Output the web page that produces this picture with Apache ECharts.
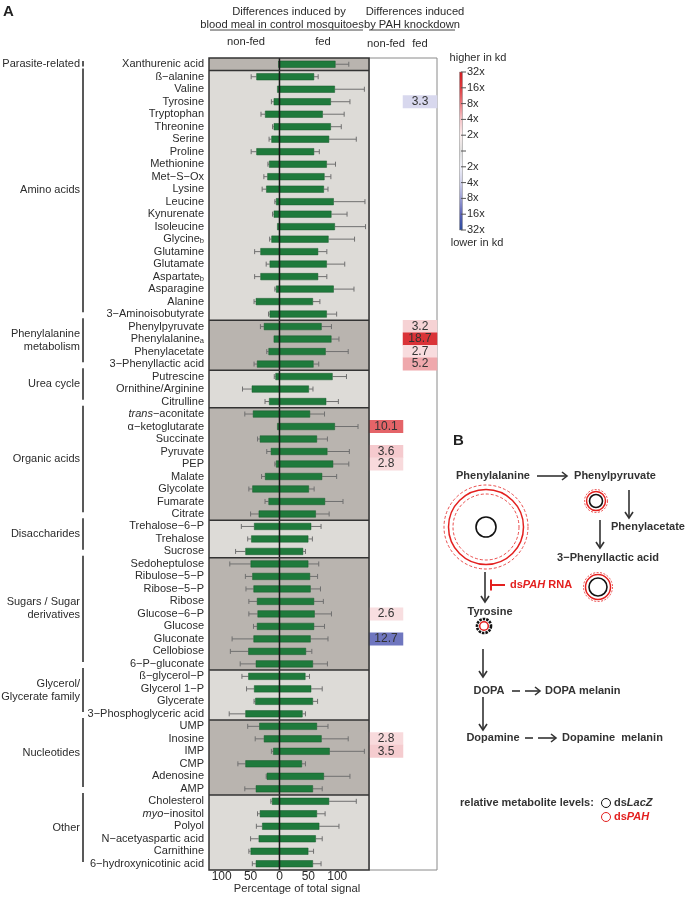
<!DOCTYPE html>
<html><head><meta charset="utf-8">
<script src="https://cdn.jsdelivr.net/npm/echarts@6/dist/echarts.min.js"></script>
<style>html,body{margin:0;padding:0;background:#fff}#c{width:688px;height:898px}</style>
</head><body><div id="c"></div>
<script>
// ---------------- DATA ----------------
const metabolites = ['Xanthurenic acid','ß−alanine','Valine','Tyrosine','Tryptophan','Threonine','Serine','Proline','Methionine','Met−S−Ox','Lysine','Leucine','Kynurenate','Isoleucine','Glycine','Glutamine','Glutamate','Aspartate','Asparagine','Alanine','3−Aminoisobutyrate','Phenylpyruvate','Phenylalanine','Phenylacetate','3−Phenyllactic acid','Putrescine','Ornithine/Arginine','Citrulline','trans−aconitate','α−ketoglutarate','Succinate','Pyruvate','PEP','Malate','Glycolate','Fumarate','Citrate','Trehalose−6−P','Trehalose','Sucrose','Sedoheptulose','Ribulose−5−P','Ribose−5−P','Ribose','Glucose−6−P','Glucose','Gluconate','Cellobiose','6−P−gluconate','ß−glycerol−P','Glycerol 1−P','Glycerate','3−Phosphoglyceric acid','UMP','Inosine','IMP','CMP','Adenosine','AMP','Cholesterol','myo−inositol','Polyol','N−acetyaspartic acid','Carnithine','6−hydroxynicotinic acid'];
const nonFed = [2,40,4,10,25,10,14,40,18,21, 23,6,10,4,14,33,17,33,6,41, 17,27,10,19,39,7,48,18,46,4, 34,15,6,25,47,19,36,44,49,59, 50,47,45,39,38,39,45,54,41,54, 44,42,59,35,27,11,59,22,41,13, 34,30,36,50,41];
const fed = [97,60,96,89,75,89,86,60,82,78, 77,94,90,96,85,67,82,67,94,58, 82,73,90,80,59,92,51,81,53,96, 65,83,93,74,51,79,63,55,50,41, 50,53,54,60,61,60,54,46,58,45, 55,58,40,65,73,87,39,77,58,86, 65,69,63,50,58];
const errNonFed = [0,9,0,4,7,2,4,9,2,6, 7,2,2,0,3,10,6,10,2,3, 2,6,0,3,5,2,16,7,14,0, 4,7,2,6,6,6,14,22,6,17, 36,12,13,14,15,6,37,31,27,11, 13,2,28,20,15,3,13,1,19,2, 4,10,14,3,6];
const errFed = [23,7,51,33,37,18,47,9,15,11, 7,54,27,53,45,15,31,15,35,12, 17,17,13,39,9,24,7,21,25,40, 18,38,27,25,9,31,23,17,7,4, 18,13,17,16,29,18,30,10,25,7, 19,8,5,19,46,60,6,45,16,47, 14,34,11,9,14];
const groupNames = ['Parasite-related','Amino acids','Phenylalanine\nmetabolism','Urea cycle','Organic acids','Disaccharides','Sugars / Sugar\nderivatives','Glycerol/\nGlycerate family','Nucleotides','Other'];
const groupSizes = [1,20,4,3,9,3,9,4,6,6];
const subscriptMarks = {'Glycine':'b','Aspartate':'b','Phenylalanine':'a'};
const italicPrefixes = {'trans−aconitate':'trans','myo−inositol':'myo'};
// fold change PAH knockdown vs control (negative = lower in kd)
const kdColumns = ['non-fed','fed'];
const kdCells = [
  ['Tyrosine','fed',-3.3],
  ['Phenylpyruvate','fed',3.2],
  ['Phenylalanine','fed',18.7],
  ['Phenylacetate','fed',2.7],
  ['3−Phenyllactic acid','fed',5.2],
  ['α−ketoglutarate','non-fed',10.1],
  ['Pyruvate','non-fed',3.6],
  ['PEP','non-fed',2.8],
  ['Glucose−6−P','non-fed',2.6],
  ['Gluconate','non-fed',-12.7],
  ['Inosine','non-fed',2.8],
  ['IMP','non-fed',3.5]
];
const xTickValues = [-100,-50,0,50,100];
const scaleTickLabels = ['32x','16x','8x','4x','2x','','2x','4x','8x','16x','32x'];
const scaleColors = ['#2a4a9c','#5a62b5','#9a9dd3','#cfd0ea','#eeeef7','#ffffff','#fbeeee','#f4c4c8','#e8797e','#dd3a3e','#cf1d23'];

// ---------------- STYLE ----------------
const FONT = '"Liberation Sans", Arial, sans-serif';
const TXT = '#2b2b2b';
const DARK = '#b9b4af';
const LIGHT = '#dddbd7';
const GREEN = '#1f7a3c';

const chart = echarts.init(document.getElementById('c'));

const heatData = kdCells.map(([m, col, v]) => [col, m, Math.sign(v) * Math.log2(Math.abs(v)), Math.abs(v)]);

function bandEdges(api, start, end) {
  const h = api.size([0, 1])[1];
  return [api.coord([0, start])[1] - h / 2, api.coord([0, end])[1] + h / 2];
}

function arrowRight(x1, x2, y) {
  return [
    {type:'line', shape:{x1, y1:y, x2, y2:y}, style:{stroke:'#333', lineWidth:1.6}},
    {type:'polyline', shape:{points:[[x2-5,y-4],[x2,y],[x2-5,y+4]]}, style:{stroke:'#333', lineWidth:1.6, fill:null}}
  ];
}
function arrowDown(x, y1, y2) {
  return [
    {type:'line', shape:{x1:x, y1, x2:x, y2}, style:{stroke:'#333', lineWidth:1.6}},
    {type:'polyline', shape:{points:[[x-4,y2-6],[x,y2],[x+4,y2-6]]}, style:{stroke:'#333', lineWidth:1.6, fill:null}}
  ];
}
function ring(cx, cy, r, color, lw, dash) {
  return {type:'circle', shape:{cx, cy, r}, style:{fill:null, stroke:color, lineWidth:lw, lineDash: dash || null}};
}
function btext(x, y, t, align, extra) {
  return {type:'text', x, y, style:Object.assign({text:t, font:'bold 11px ' + FONT, fill:'#333', textAlign:align || 'center', textVerticalAlign:'middle'}, extra || {})};
}
function htext(x, y, t) {
  return {type:'text', x, y, style:{text:t, font:'11.2px ' + FONT, fill:TXT, textAlign:'center', textVerticalAlign:'middle'}};
}

const RED = '#e3201f';
const graphics = [
  {type:'text', x:3, y:12, style:{text:'A', font:'bold 15px ' + FONT, fill:'#222', textVerticalAlign:'middle'}},
  {type:'text', x:453, y:441, style:{text:'B', font:'bold 15px ' + FONT, fill:'#222', textVerticalAlign:'middle'}},
  // headers
  htext(289, 12, 'Differences induced by'),
  htext(282, 25, 'blood meal in control mosquitoes'),
  {type:'line', shape:{x1:210, y1:30, x2:363, y2:30}, style:{stroke:'#444', lineWidth:1}},
  htext(415, 12, 'Differences induced'),
  htext(412, 25, 'by PAH knockdown'),
  {type:'line', shape:{x1:369, y1:30, x2:455, y2:30}, style:{stroke:'#444', lineWidth:1}},
  htext(246, 42, 'non-fed'),
  htext(323, 42, 'fed'),
  htext(297, 889, 'Percentage of total signal'),
  // colour scale
  {type:'text', x:478, y:58, style:{text:'higher in kd', font:'11px ' + FONT, fill:TXT, textAlign:'center', textVerticalAlign:'middle'}},
  {type:'text', x:477, y:243, style:{text:'lower in kd', font:'11px ' + FONT, fill:TXT, textAlign:'center', textVerticalAlign:'middle'}},
  {type:'rect', shape:{x:459.5, y:72, width:3, height:158}, style:{
    fill: new echarts.graphic.LinearGradient(0,0,0,1, scaleColors.slice().reverse().map((c,i)=>({offset:i/10, color: i===5 ? '#dedede' : c}))),
    stroke:'#888', lineWidth:0.5}}
];
scaleTickLabels.forEach((t, k) => {
  const y = 72 + k * 15.8;
  graphics.push({type:'line', shape:{x1:461, y1:y, x2:466, y2:y}, style:{stroke:'#555', lineWidth:1}});
  if (t) graphics.push({type:'text', x:467, y, style:{text:t, font:'11px ' + FONT, fill:TXT, textVerticalAlign:'middle'}});
});
// Panel B pathway
graphics.push(
  btext(493, 476, 'Phenylalanine'),
  ...arrowRight(537, 567, 476),
  btext(615, 476, 'Phenylpyruvate'),
  ring(486, 527, 42, RED, 0.8, [3,2]),
  ring(486, 527, 37.5, RED, 1.5),
  ring(486, 527, 33, RED, 0.8, [3,2]),
  ring(486, 527, 10, '#111', 1.6),
  ring(596, 501, 11.5, RED, 0.8, [2,1.5]),
  ring(596, 501, 9.5, RED, 1.5),
  ring(596, 501, 6.5, '#111', 1.6),
  ...arrowDown(629, 490, 518),
  btext(648, 527, 'Phenylacetate'),
  ...arrowDown(600, 520, 548),
  btext(608, 558, '3−Phenyllactic acid'),
  ring(598, 587, 14.5, RED, 0.8, [2,1.5]),
  ring(598, 587, 12.5, RED, 1.5),
  ring(598, 587, 9, '#111', 1.6),
  ...arrowDown(485, 572, 602),
  {type:'line', shape:{x1:491, y1:585, x2:505, y2:585}, style:{stroke:RED, lineWidth:2}},
  {type:'line', shape:{x1:491, y1:579.5, x2:491, y2:590.5}, style:{stroke:RED, lineWidth:2}},
  {type:'text', x:510, y:585, style:{text:'{n|ds}{i|PAH}{n| RNA}', textVerticalAlign:'middle', rich:{
    n:{font:'bold 11px ' + FONT, fill:RED}, i:{font:'italic bold 11px ' + FONT, fill:RED}}}},
  btext(490, 612, 'Tyrosine'),
  ring(484, 626, 7, '#111', 2.6, [2.5,1]),
  ring(484, 626, 4.3, RED, 1.5),
  ...arrowDown(483, 649, 677),
  btext(489, 691, 'DOPA'),
  {type:'line', shape:{x1:512, y1:691, x2:520, y2:691}, style:{stroke:'#333', lineWidth:1.6}},
  ...arrowRight(525, 540, 691),
  btext(545, 691, 'DOPA melanin', 'left'),
  ...arrowDown(483, 697, 730),
  btext(493, 738, 'Dopamine'),
  {type:'line', shape:{x1:525, y1:738, x2:533, y2:738}, style:{stroke:'#333', lineWidth:1.6}},
  ...arrowRight(538, 556, 738),
  btext(562, 738, 'Dopamine  melanin', 'left'),
  btext(460, 803, 'relative metabolite levels:', 'left'),
  ring(606, 803, 4.5, '#111', 1),
  {type:'text', x:614, y:803, style:{text:'{n|ds}{i|LacZ}', textVerticalAlign:'middle', rich:{
    n:{font:'bold 11px ' + FONT, fill:'#333'}, i:{font:'italic bold 11px ' + FONT, fill:'#333'}}}},
  ring(606, 817, 4.5, RED, 1),
  {type:'text', x:614, y:817, style:{text:'{n|ds}{i|PAH}', textVerticalAlign:'middle', rich:{
    n:{font:'bold 11px ' + FONT, fill:RED}, i:{font:'italic bold 11px ' + FONT, fill:RED}}}}
);

const option = {
  animation: false,
  backgroundColor: '#fff',
  textStyle: {fontFamily: FONT},
  grid: [
    {left:209, top:58, width:160, height:812},
    {left:369, top:58, width:68, height:812, show:true, borderColor:'#8a8a8a', borderWidth:1, backgroundColor:'#fff'}
  ],
  xAxis: [
    {type:'value', gridIndex:0, min:-122, max:155, interval:2,
     axisLine:{show:false}, axisTick:{show:false}, splitLine:{show:false},
     axisLabel:{margin:1, fontSize:12, color:TXT, fontFamily:FONT,
       formatter: v => xTickValues.includes(v) ? String(Math.abs(v)) : ''}},
    {type:'category', gridIndex:1, data:kdColumns, position:'top',
     axisLine:{show:false}, axisTick:{show:false},
     axisLabel:{interval:0, margin:9, fontSize:11.2, color:TXT, fontFamily:FONT}}
  ],
  yAxis: [
    {type:'category', gridIndex:0, data:metabolites, inverse:true,
     axisLine:{show:false}, axisTick:{show:false},
     axisLabel:{interval:0, margin:5, fontSize:11, lineHeight:12, color:TXT, fontFamily:FONT,
       formatter: v => {
         if (subscriptMarks[v]) return v + '{sub|' + subscriptMarks[v] + '}';
         if (italicPrefixes[v]) { const p = italicPrefixes[v]; return '{it|' + p + '}' + v.slice(p.length); }
         return v;
       },
       rich:{
         sub:{fontSize:7.5, lineHeight:4, color:TXT, fontFamily:FONT, verticalAlign:'bottom'},
         it:{fontSize:11, lineHeight:12, fontStyle:'italic', color:TXT, fontFamily:FONT}
       }}},
    {type:'category', gridIndex:1, data:metabolites, inverse:true, show:false}
  ],
  visualMap: {show:false, type:'continuous', min:-5, max:5, dimension:2, seriesIndex:5, inRange:{color:scaleColors}},
  series: [
    { // group backgrounds
      type:'custom', xAxisIndex:0, yAxisIndex:0, silent:true, z:0, data:[[0,0]], encode:{x:0,y:1},
      renderItem: (params, api) => {
        const cs = params.coordSys; const children = []; let s = 0;
        groupSizes.forEach((n, g) => {
          const [t, b] = bandEdges(api, s, s + n - 1);
          children.push({type:'rect', shape:{x:cs.x, y:t, width:cs.width, height:b - t}, style:{fill: g % 2 === 0 ? DARK : LIGHT}});
          s += n;
        });
        return {type:'group', children};
      }
    },
    { // error bars
      type:'custom', xAxisIndex:0, yAxisIndex:0, silent:true, z:1,
      data: metabolites.map((m, i) => [i, nonFed[i], fed[i], errNonFed[i], errFed[i]]),
      encode:{y:0, x:[1,2]},
      renderItem: (params, api) => {
        const i = api.value(0), nf = api.value(1), f = api.value(2), en = api.value(3), ef = api.value(4);
        const y = api.coord([0, i])[1]; const ch = [];
        const seg = (a, b) => {
          const p1 = api.coord([a, i])[0], p2 = api.coord([b, i])[0];
          ch.push({type:'line', shape:{x1:p1, y1:y, x2:p2, y2:y}, style:{stroke:'#707070', lineWidth:1}});
          ch.push({type:'line', shape:{x1:p2, y1:y-2.5, x2:p2, y2:y+2.5}, style:{stroke:'#707070', lineWidth:1}});
        };
        if (en > 0) seg(-nf, -(nf + en));
        if (ef > 0) seg(f, f + ef);
        return {type:'group', children:ch};
      }
    },
    {type:'bar', xAxisIndex:0, yAxisIndex:0, stack:'s', barWidth:7, z:2, silent:true,
     data: nonFed.map(v => -v), itemStyle:{color:GREEN, borderColor:'#16592b', borderWidth:0.5}},
    {type:'bar', xAxisIndex:0, yAxisIndex:0, stack:'s', barWidth:7, z:2, silent:true,
     data: fed, itemStyle:{color:GREEN, borderColor:'#16592b', borderWidth:0.5}},
    { // overlay: zero line, group separators, frame, brackets, group labels
      type:'custom', xAxisIndex:0, yAxisIndex:0, silent:true, z:5, clip:false, data:[[0,0]], encode:{x:0,y:1},
      renderItem: (params, api) => {
        const cs = params.coordSys; const ch = []; let s = 0;
        const x0 = api.coord([0, 0])[0];
        ch.push({type:'line', shape:{x1:x0, y1:cs.y, x2:x0, y2:cs.y + cs.height}, style:{stroke:'#1a1a1a', lineWidth:1.5}});
        groupSizes.forEach((n, g) => {
          const [t, b] = bandEdges(api, s, s + n - 1);
          if (g > 0) ch.push({type:'line', shape:{x1:cs.x, y1:t, x2:cs.x + cs.width, y2:t}, style:{stroke:'#333', lineWidth:1.5}});
          const y1 = n === 1 ? t + 3 : t - 2, y2 = n === 1 ? b - 4 : b - 8;
          ch.push({type:'line', shape:{x1:83, y1, x2:83, y2}, style:{stroke:'#222', lineWidth:1.5}});
          ch.push({type:'text', x:80, y: n === 1 ? (t + b) / 2 : (t + b) / 2 - 5,
            style:{text:groupNames[g], font:'11px ' + FONT, fill:TXT, textAlign:'right', textVerticalAlign:'middle', lineHeight:13}});
          s += n;
        });
        ch.push({type:'rect', shape:{x:cs.x, y:cs.y, width:cs.width, height:cs.height}, style:{fill:null, stroke:'#333', lineWidth:1.5}});
        return {type:'group', children:ch};
      }
    },
    {type:'heatmap', xAxisIndex:1, yAxisIndex:1, data:heatData, silent:true,
     label:{show:true, formatter: p => p.data[3].toFixed(1), fontSize:12, color:'#333', fontFamily:FONT},
     itemStyle:{borderWidth:0}}
  ],
  graphic: graphics
};
chart.setOption(option);
</script>
</body></html>
